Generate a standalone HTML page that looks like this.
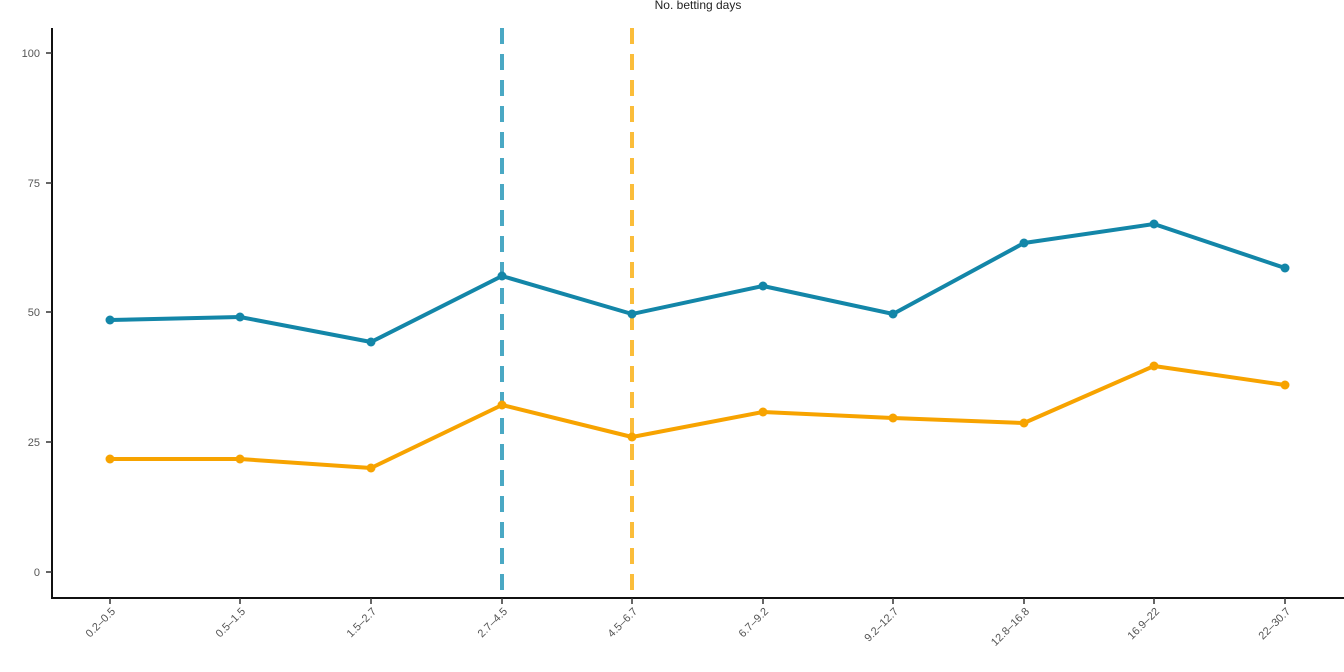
<!DOCTYPE html>
<html><head><meta charset="utf-8"><style>
html,body{margin:0;padding:0;background:#fff;}
svg{display:block;font-family:"Liberation Sans",sans-serif;}
</style></head><body>
<svg width="1344" height="672" viewBox="0 0 1344 672" xmlns="http://www.w3.org/2000/svg">
<text x="698" y="9" font-size="12" text-anchor="middle" fill="#222">No. betting days</text>
<g stroke="#111" stroke-width="2" fill="none">
<line x1="52" y1="28" x2="52" y2="599"/>
<line x1="51" y1="598" x2="1344" y2="598"/>
</g>
<g stroke="#333" stroke-width="1.5">
<line x1="46" y1="53" x2="52" y2="53"/><line x1="46" y1="183" x2="52" y2="183"/>
<line x1="46" y1="312" x2="52" y2="312"/><line x1="46" y1="442" x2="52" y2="442"/>
<line x1="46" y1="572" x2="52" y2="572"/>
<line x1="110" y1="598" x2="110" y2="604"/><line x1="240" y1="598" x2="240" y2="604"/>
<line x1="371" y1="598" x2="371" y2="604"/><line x1="502" y1="598" x2="502" y2="604"/>
<line x1="632" y1="598" x2="632" y2="604"/><line x1="763" y1="598" x2="763" y2="604"/>
<line x1="893" y1="598" x2="893" y2="604"/><line x1="1024" y1="598" x2="1024" y2="604"/>
<line x1="1154" y1="598" x2="1154" y2="604"/><line x1="1285" y1="598" x2="1285" y2="604"/>
</g>
<g font-size="11" fill="#555" text-anchor="end">
<text x="40" y="57">100</text><text x="40" y="187">75</text><text x="40" y="316">50</text>
<text x="40" y="446">25</text><text x="40" y="576">0</text>
</g>
<g font-size="11" fill="#555" text-anchor="end">
<text transform="translate(116,612) rotate(-45)">0.2–0.5</text>
<text transform="translate(246,612) rotate(-45)">0.5–1.5</text>
<text transform="translate(377,612) rotate(-45)">1.5–2.7</text>
<text transform="translate(508,612) rotate(-45)">2.7–4.5</text>
<text transform="translate(638,612) rotate(-45)">4.5–6.7</text>
<text transform="translate(769,612) rotate(-45)">6.7–9.2</text>
<text transform="translate(899,612) rotate(-45)">9.2–12.7</text>
<text transform="translate(1030,612) rotate(-45)">12.8–16.8</text>
<text transform="translate(1160,612) rotate(-45)">16.9–22</text>
<text transform="translate(1291,612) rotate(-45)">22–30.7</text>
</g>
<line x1="502" y1="28" x2="502" y2="598" stroke="#4aa8c4" stroke-width="4" stroke-dasharray="16,10"/>
<line x1="632" y1="28" x2="632" y2="598" stroke="#fbbd3a" stroke-width="4" stroke-dasharray="16,10"/>
<polyline fill="none" stroke="#1386a8" stroke-width="4" stroke-linejoin="round" points="110,320 240,317 371,342 502,276 632,314 763,286 893,314 1024,243 1154,224 1285,268"/>
<g fill="#1386a8">
<circle cx="110" cy="320" r="4.5"/><circle cx="240" cy="317" r="4.5"/><circle cx="371" cy="342" r="4.5"/>
<circle cx="502" cy="276" r="4.5"/><circle cx="632" cy="314" r="4.5"/><circle cx="763" cy="286" r="4.5"/>
<circle cx="893" cy="314" r="4.5"/><circle cx="1024" cy="243" r="4.5"/><circle cx="1154" cy="224" r="4.5"/>
<circle cx="1285" cy="268" r="4.5"/>
</g>
<polyline fill="none" stroke="#f7a300" stroke-width="4" stroke-linejoin="round" points="110,459 240,459 371,468 502,405 632,437 763,412 893,418 1024,423 1154,366 1285,385"/>
<g fill="#f7a300">
<circle cx="110" cy="459" r="4.5"/><circle cx="240" cy="459" r="4.5"/><circle cx="371" cy="468" r="4.5"/>
<circle cx="502" cy="405" r="4.5"/><circle cx="632" cy="437" r="4.5"/><circle cx="763" cy="412" r="4.5"/>
<circle cx="893" cy="418" r="4.5"/><circle cx="1024" cy="423" r="4.5"/><circle cx="1154" cy="366" r="4.5"/>
<circle cx="1285" cy="385" r="4.5"/>
</g>
</svg>
</body></html>
